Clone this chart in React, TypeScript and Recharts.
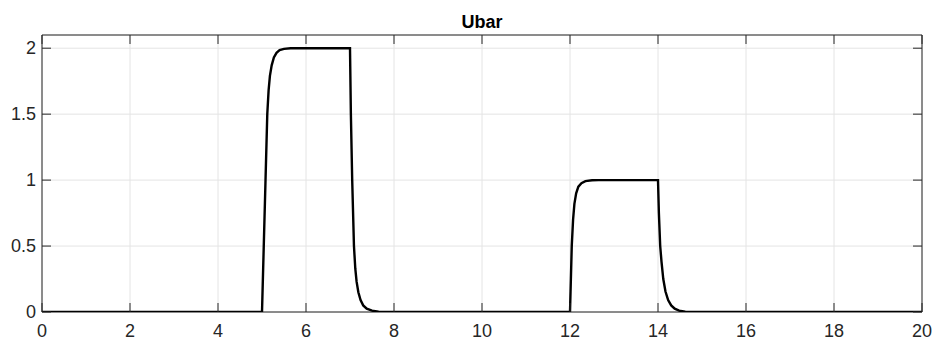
import React from 'react';
import { LineChart, Line, XAxis, YAxis, CartesianGrid, ReferenceArea } from 'recharts';

// time samples and Ubar values
const TIME = [
  0, 5, 5.04, 5.08, 5.12, 5.15, 5.18, 5.22, 5.27, 5.33, 5.4, 5.5, 5.65,
  7, 7.02, 7.05, 7.09, 7.12, 7.15, 7.19, 7.24, 7.3, 7.38, 7.5, 7.65, 7.85,
  12, 12.04, 12.07, 12.1, 12.14, 12.19, 12.26, 12.35, 12.5, 12.65,
  14, 14.02, 14.05, 14.08, 14.12, 14.17, 14.23, 14.3, 14.38, 14.48, 14.62, 14.85,
  20,
];
const UBAR = [
  0, 0, 0.5, 1.0, 1.5, 1.68, 1.79, 1.87, 1.93, 1.965, 1.985, 1.995, 2,
  2, 1.5, 1.0, 0.5, 0.33, 0.23, 0.15, 0.09, 0.05, 0.025, 0.01, 0.003, 0,
  0, 0.5, 0.7, 0.82, 0.9, 0.95, 0.977, 0.992, 0.999, 1,
  1, 0.75, 0.5, 0.38, 0.25, 0.155, 0.09, 0.05, 0.025, 0.01, 0.003, 0,
  0,
];
const X_TICKS = [0, 2, 4, 6, 8, 10, 12, 14, 16, 18, 20];
const Y_TICKS = [0, 0.5, 1, 1.5, 2];

const data = TIME.map((t, i) => ({ t, u: UBAR[i] }));

const W = 935;
const H = 343;
const MARGIN = { top: 35, right: 13, bottom: 0, left: 0 };
const Y_AXIS_W = 42;
const X_AXIS_H = 31;
const PLOT_TOP = MARGIN.top;
const PLOT_BOTTOM = H - MARGIN.bottom - X_AXIS_H;
const PLOT_LEFT = MARGIN.left + Y_AXIS_W;
const PLOT_RIGHT = W - MARGIN.right;

const AXIS = '#262626';
const TICK_LEN = 9;
const FONT = 'Liberation Sans, Arial, sans-serif';
const FS = 18;

// matlab style: ticks point inwards, on all four sides
const BottomTick = (props: any) => {
  const { x, payload } = props;
  return (
    <g>
      <line x1={x} x2={x} y1={PLOT_BOTTOM} y2={PLOT_BOTTOM - TICK_LEN} stroke={AXIS} />
      <line x1={x} x2={x} y1={PLOT_TOP} y2={PLOT_TOP + TICK_LEN} stroke={AXIS} />
      <text x={x} y={PLOT_BOTTOM + 25} textAnchor="middle" fill={AXIS} fontSize={FS} fontFamily={FONT}>
        {payload.value}
      </text>
    </g>
  );
};

const LeftTick = (props: any) => {
  const { y, payload } = props;
  return (
    <g>
      <line x1={PLOT_LEFT} x2={PLOT_LEFT + TICK_LEN} y1={y} y2={y} stroke={AXIS} />
      <line x1={PLOT_RIGHT} x2={PLOT_RIGHT - TICK_LEN} y1={y} y2={y} stroke={AXIS} />
      <text x={PLOT_LEFT - 6} y={y + 6} textAnchor="end" fill={AXIS} fontSize={FS} fontFamily={FONT}>
        {payload.value}
      </text>
    </g>
  );
};

export default function App() {
  return (
    <div style={{ position: 'absolute', left: 0, top: 0, width: W, height: H, background: '#fff' }}>
      <LineChart width={W} height={H} data={data} margin={MARGIN}>
        <CartesianGrid stroke="#e4e4e4" />
        <XAxis
          dataKey="t"
          type="number"
          domain={[0, 20]}
          ticks={X_TICKS}
          height={X_AXIS_H}
          tickLine={false}
          axisLine={false}
          tick={<BottomTick />}
          allowDataOverflow
        />
        <YAxis
          type="number"
          domain={[0, 2.1]}
          ticks={Y_TICKS}
          width={Y_AXIS_W}
          tickLine={false}
          axisLine={false}
          tick={<LeftTick />}
          allowDataOverflow
        />
        <ReferenceArea x1={0} x2={20} y1={0} y2={2.1} fill="none" stroke={AXIS} strokeWidth={1} ifOverflow="visible" />
        <Line
          type="linear"
          dataKey="u"
          stroke="#000"
          strokeWidth={2.4}
          dot={false}
          isAnimationActive={false}
        />
      </LineChart>
      <svg style={{ position: 'absolute', left: 0, top: 0 }} width={W} height={34}>
        <text x={482} y={28} textAnchor="middle" fontWeight="bold" fontSize={18} fontFamily={FONT} fill="#000">
          Ubar
        </text>
      </svg>
    </div>
  );
}
